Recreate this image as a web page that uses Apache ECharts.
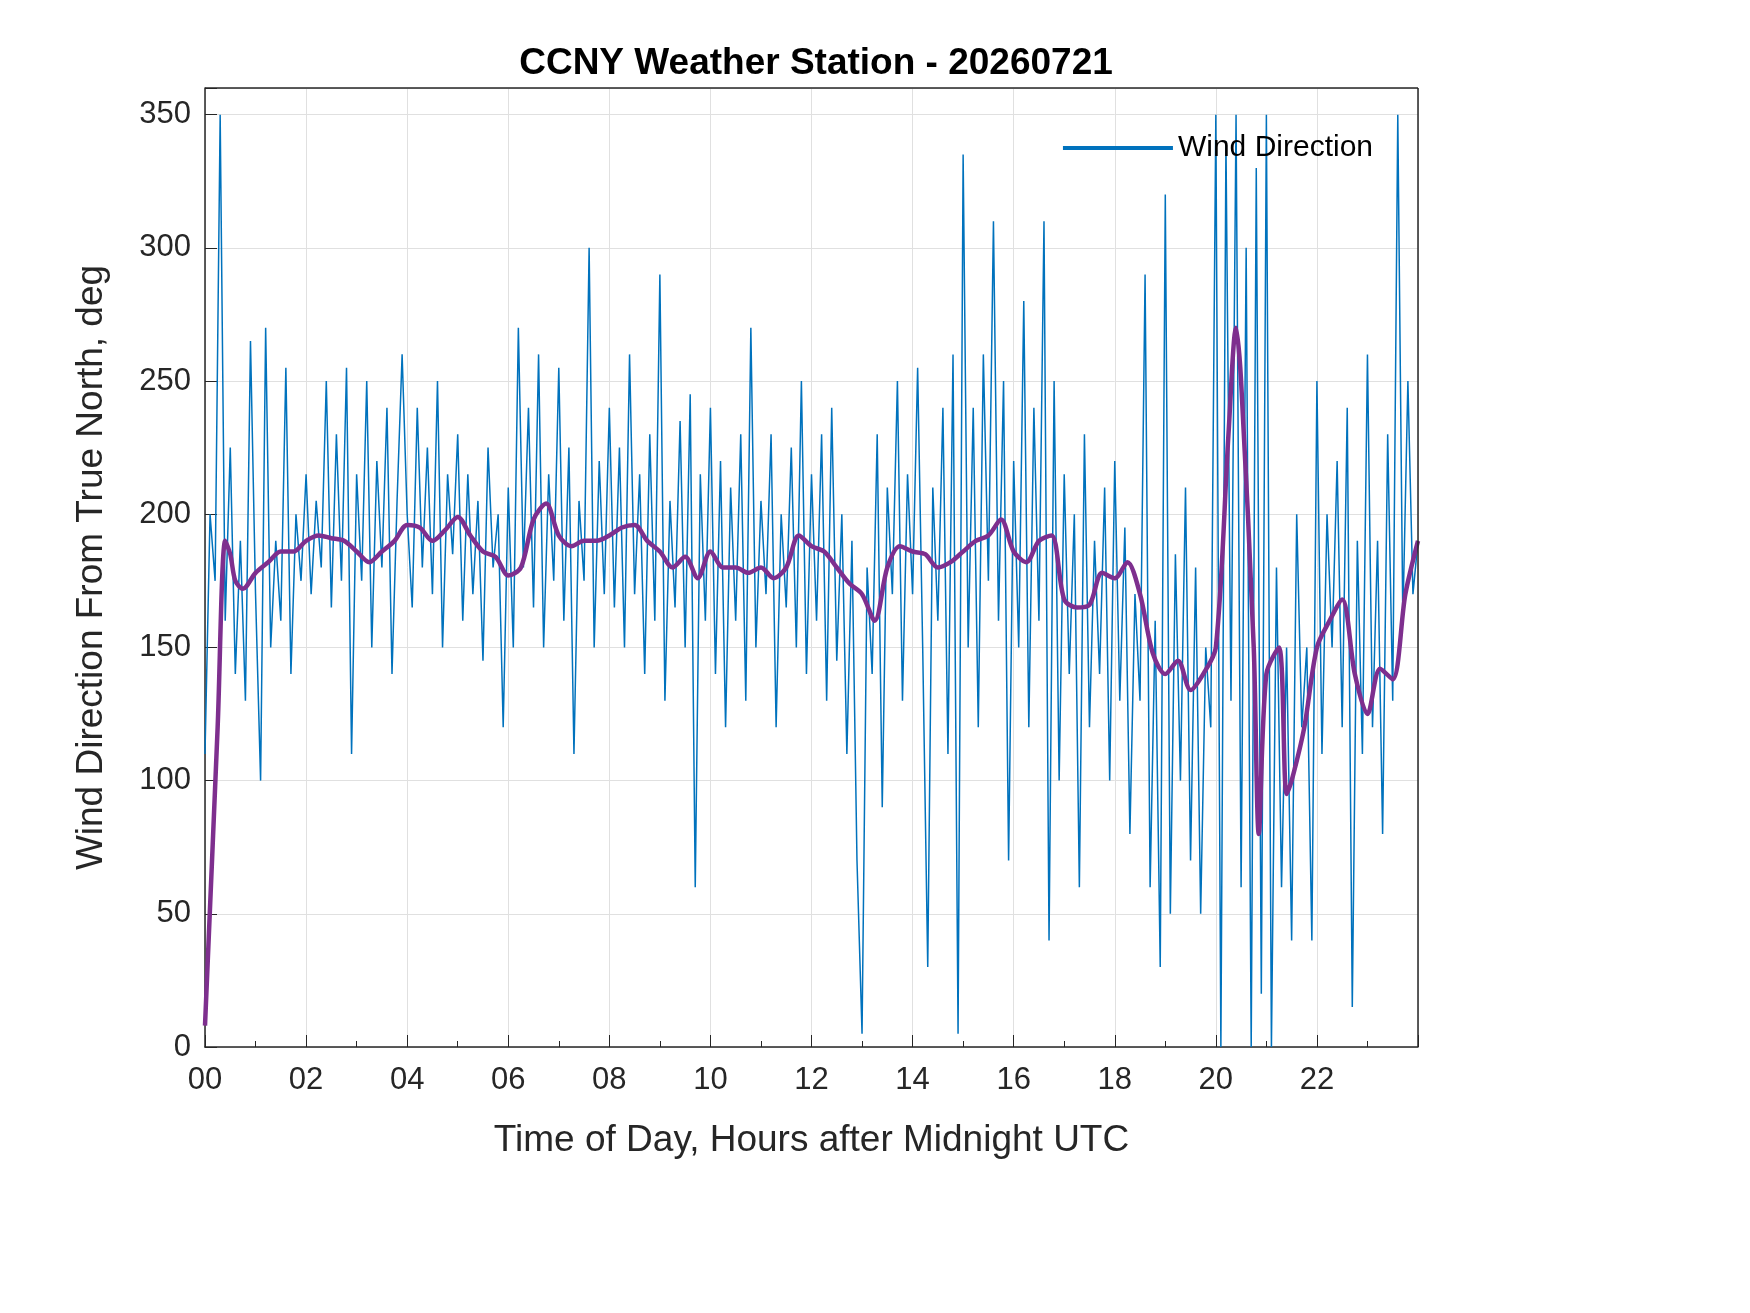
<!DOCTYPE html>
<html>
<head>
<meta charset="utf-8">
<script src="https://cdn.jsdelivr.net/npm/echarts@6/dist/echarts.min.js"></script>
<style>html,body{margin:0;background:#fff}#chart{width:1750px;height:1313px}</style>
</head>
<body>
<div id="chart"></div>
<script>
// wind direction samples, one every 0.1 h starting at 00:00
var windStep = 0.1;
var windDir = [
    110,200,175,350,160,225,140,190,130,265,
    170,100,270,150,190,160,255,140,200,175,
    215,170,205,180,250,165,230,175,255,110,
    215,175,250,150,220,180,240,140,205,260,
    200,165,240,180,225,170,250,150,215,185,
    230,160,215,170,205,145,225,180,200,120,
    210,150,270,180,240,165,260,150,215,175,
    255,160,225,110,205,175,300,150,220,170,
    240,165,225,150,260,170,215,140,230,160,
    290,130,205,165,235,150,245,60,215,160,
    240,140,220,120,210,160,230,130,270,150,
    205,170,230,120,200,165,225,150,250,140,
    215,160,230,130,240,145,200,110,190,70,
    5,180,140,230,90,210,170,250,130,215,
    170,255,150,30,210,160,240,110,260,5,
    335,150,240,120,260,175,310,160,250,70,
    220,150,280,120,240,160,310,40,250,100,
    215,140,200,60,230,120,190,140,210,100,
    220,130,195,80,170,130,290,60,160,30,
    320,50,185,100,210,70,180,50,150,120,
    350,0,340,130,350,60,300,0,330,20,
    350,0,180,60,150,40,200,120,150,40,
    250,110,200,150,220,120,240,15,190,110,
    260,120,190,80,230,130,350,160,250,170,
    190
];
// smoothed trend: hour, degrees
var trendHours = [0,0.25,0.4,0.5,0.6,0.75,1,1.25,1.5,1.75,2,2.25,2.5,2.75,3,3.25,3.5,3.75,4,4.25,4.5,4.75,5,5.25,5.5,5.75,6,6.25,6.5,6.75,7,7.25,7.5,7.75,8,8.25,8.5,8.75,9,9.25,9.5,9.75,10,10.25,10.5,10.75,11,11.25,11.5,11.75,12,12.25,12.5,12.75,13,13.25,13.5,13.75,14,14.25,14.5,14.75,15,15.25,15.5,15.75,16,16.25,16.5,16.75,17,17.25,17.5,17.75,18,18.25,18.5,18.75,19,19.25,19.5,19.75,20,20.25,20.4,20.5,20.75,20.85,21,21.25,21.4,21.5,21.75,22,22.25,22.5,22.75,23,23.25,23.5,23.75,24];
var trendDeg = [8,120,190,185,175,172,178,182,186,186,190,192,191,190,186,182,186,190,196,195,190,194,199,192,186,184,177,180,198,204,192,188,190,190,192,195,196,190,186,180,184,176,186,180,180,178,180,176,180,192,188,186,180,174,170,160,180,188,186,185,180,182,186,190,192,198,186,182,190,192,168,165,166,178,176,182,170,148,140,145,134,140,150,230,270,250,150,80,140,150,95,100,120,150,160,168,140,125,142,138,170,190];

var windData = windDir.map(function (v, i) { return [+(i * windStep).toFixed(2), v] });
var trendData = trendHours.map(function (h, i) { return [h, trendDeg[i]] });

var chart = echarts.init(document.getElementById('chart'));
var axisCol = '#262626';
var font = 'Liberation Sans, Arial, sans-serif';
chart.setOption({
    animation: false,
    title: {
        text: 'CCNY Weather Station - 20260721',
        left: 811, top: 40, textAlign: 'center',
        textStyle: { fontFamily: font, fontSize: 37, fontWeight: 'bold', color: '#000' }
    },
    legend: {
        data: ['Wind Direction'], right: 372, top: 128,
        itemWidth: 110, itemHeight: 4, icon: 'rect',
        textStyle: { fontFamily: font, fontSize: 30, color: '#000' }
    },
    grid: { left: 205, right: 332, top: 88, bottom: 266 },
    xAxis: {
        type: 'value', min: 0, max: 24, interval: 2,
        name: 'Time of Day, Hours after Midnight UTC', nameLocation: 'middle', nameGap: 75,
        nameTextStyle: { fontFamily: font, fontSize: 37, color: axisCol },
        axisLine: { lineStyle: { color: axisCol, width: 1.5 } },
        axisTick: { inside: true, length: 12, lineStyle: { color: axisCol } },
        axisLabel: {
            fontFamily: font, fontSize: 31, color: axisCol, margin: 18,
            formatter: function (v) { return v >= 24 ? '' : (v < 10 ? '0' + v : '' + v) }
        },
        splitLine: { show: true, lineStyle: { color: '#e0e0e0' } },
        minorTick: { show: true, splitNumber: 2, length: 6 }
    },
    yAxis: {
        type: 'value', min: 0, max: 360, interval: 50,
        name: 'Wind Direction From True North, deg', nameLocation: 'middle', nameGap: 95,
        nameTextStyle: { fontFamily: font, fontSize: 37, color: axisCol },
        axisLine: { show: true, lineStyle: { color: axisCol, width: 1.5 } },
        axisTick: { show: true, inside: true, length: 12, lineStyle: { color: axisCol } },
        axisLabel: { fontFamily: font, fontSize: 31, color: axisCol, margin: 14,
            formatter: function (v) { return v > 350 ? '' : v } },
        splitLine: { show: true, lineStyle: { color: '#e0e0e0' } }
    },
    series: [
        {
            name: 'Wind Direction', type: 'line', data: windData, symbol: 'none',
            lineStyle: { color: '#0072BD', width: 1.5 }, itemStyle: { color: '#0072BD' }
        },
        {
            name: 'Trend', type: 'line', data: trendData, symbol: 'none', smooth: 0.3,
            lineStyle: { color: '#7E2F8E', width: 4.5 }
        },
        {
            // box outline on top and right
            type: 'line', data: [], markLine: {
                silent: true, symbol: 'none', label: { show: false },
                lineStyle: { color: axisCol, width: 1.5, type: 'solid' },
                data: [{ yAxis: 360 }, { xAxis: 24 }]
            }
        }
    ]
});
</script>
</body>
</html>
